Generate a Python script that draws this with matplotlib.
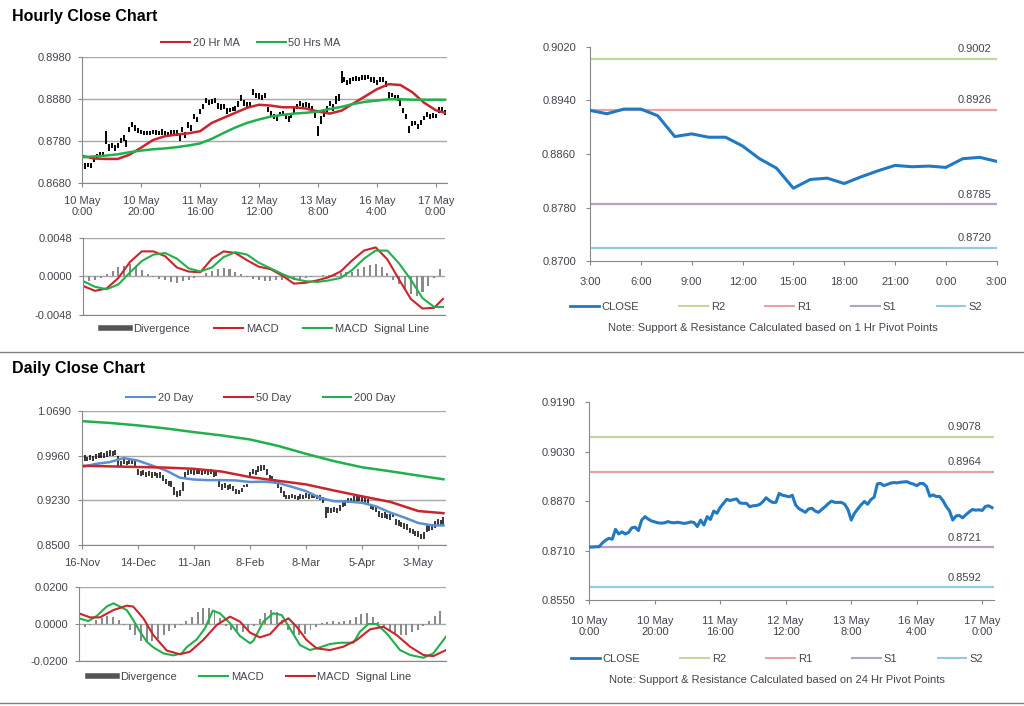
import matplotlib
matplotlib.use("Agg")
import matplotlib.pyplot as plt
from matplotlib.lines import Line2D

plt.rcParams["font.family"] = ["Liberation Sans", "DejaVu Sans"]

# hourly closes, 10 May 0:00 -> 17 May 3:00 (one value per bar)
hr_close = [0.8722, 0.8722, 0.8723, 0.8723, 0.8735, 0.8744, 0.8750, 0.8747, 0.8779, 0.8764,
            0.8771, 0.8764, 0.8769, 0.8784, 0.8786, 0.8775, 0.8809, 0.8820, 0.8812, 0.8806,
            0.8803, 0.8800, 0.8799, 0.8800, 0.8804, 0.8801, 0.8800, 0.8802, 0.8800, 0.8798,
            0.8800, 0.8803, 0.8801, 0.8788, 0.8809, 0.8793, 0.8820, 0.8811, 0.8838, 0.8831,
            0.8850, 0.8863, 0.8876, 0.8872, 0.8875, 0.8877, 0.8864, 0.8863, 0.8863, 0.8852,
            0.8855, 0.8856, 0.8859, 0.8868, 0.8881, 0.8872, 0.8866, 0.8866, 0.8895, 0.8889,
            0.8887, 0.8884, 0.8889, 0.8858, 0.8846, 0.8840, 0.8834, 0.8845, 0.8847, 0.8838,
            0.8834, 0.8843, 0.8852, 0.8862, 0.8870, 0.8866, 0.8866, 0.8866, 0.8860, 0.8843,
            0.8809, 0.8831, 0.8845, 0.8858, 0.8869, 0.8860, 0.8875, 0.8883, 0.8926, 0.8927,
            0.8920, 0.8924, 0.8928, 0.8930, 0.8929, 0.8931, 0.8932, 0.8933, 0.8928, 0.8925,
            0.8920, 0.8927, 0.8927, 0.8917, 0.8886, 0.8890, 0.8885, 0.8885, 0.8872, 0.8853,
            0.8839, 0.8809, 0.8822, 0.8824, 0.8816, 0.8826, 0.8835, 0.8843, 0.8841, 0.8842,
            0.8840, 0.8853, 0.8855, 0.8849]
# bar high / low distance from close, in pips
hr_up = [5, 6, 5, 6, 7, 6, 5, 7, 26, 9, 6, 7, 6, 5, 8, 7, 5, 6, 8, 6,
         5, 4, 6, 5, 4, 6, 5, 7, 5, 4, 6, 5, 7, 8, 6, 9, 5, 8, 6, 7,
         6, 5, 7, 6, 5, 6, 8, 5, 6, 7, 5, 6, 5, 8, 9, 6, 7, 8, 10, 6,
         8, 7, 6, 4, 5, 6, 7, 5, 6, 8, 6, 5, 7, 6, 5, 6, 7, 6, 5, 6,
         8, 9, 7, 6, 8, 9, 12, 10, 22, 6, 7, 6, 5, 6, 5, 6, 7, 5, 6, 8,
         6, 5, 6, 7, 12, 6, 5, 6, 7, 6, 5, 7, 6, 5, 6, 5, 6, 7, 5, 6,
         6, 9, 7, 6]
hr_dn = [6, 8, 5, 6, 5, 7, 6, 5, 6, 8, 7, 6, 5, 7, 6, 8, 6, 5, 7, 6,
         5, 6, 4, 5, 6, 5, 4, 6, 5, 6, 7, 6, 9, 8, 7, 6, 8, 7, 6, 5,
         6, 7, 5, 6, 7, 5, 6, 8, 6, 7, 6, 5, 7, 6, 5, 8, 7, 6, 5, 7,
         6, 5, 7, 8, 6, 7, 6, 5, 7, 6, 8, 7, 6, 5, 6, 7, 5, 6, 7, 8,
         16, 9, 7, 8, 6, 7, 5, 6, 7, 5, 6, 7, 5, 6, 5, 6, 7, 5, 6, 5,
         6, 5, 6, 7, 6, 5, 7, 8, 7, 6, 7, 9, 6, 5, 7, 6, 5, 6, 7, 6,
         5, 6, 6, 7]

hr_ma_x = [0, 4, 8, 12, 16, 20, 24, 28, 32, 36, 40, 44, 48, 52, 56, 60,
           64, 68, 72, 76, 80, 84, 88, 92, 96, 100, 104, 108, 112, 116, 120, 123]
hr_ma20 = [0.8745, 0.8739, 0.8738, 0.8738, 0.8748, 0.8765, 0.8783, 0.8792, 0.8796, 0.8799, 0.8804,
           0.8824, 0.8836, 0.8848, 0.8860, 0.8867, 0.8865, 0.8861, 0.8861, 0.8858, 0.8851, 0.8846,
           0.8853, 0.8870, 0.8887, 0.8904, 0.8916, 0.8914, 0.8897, 0.8872, 0.8854, 0.8848]
hr_ma50 = [0.8742, 0.8744, 0.8746, 0.8749, 0.8754, 0.8758, 0.8761, 0.8763, 0.8766, 0.8770, 0.8775,
           0.8786, 0.8800, 0.8813, 0.8824, 0.8832, 0.8839, 0.8843, 0.8846, 0.8848, 0.8851, 0.8857,
           0.8862, 0.8869, 0.8874, 0.8877, 0.8880, 0.8880, 0.8879, 0.8879, 0.8879, 0.8879]
hr_macd = [-0.0012, -0.0018, -0.0015, -0.0002, 0.0018, 0.0031, 0.0031, 0.0025, 0.0011, 0.0006, 0.0005,
           0.0022, 0.0031, 0.0029, 0.0020, 0.0012, 0.0009, 0.0001, -0.0009, -0.0008, -0.0005, -0.0001,
           0.0006, 0.0020, 0.0032, 0.0036, 0.0021, -0.0004, -0.0028, -0.0040, -0.0039, -0.0028]
hr_signal = [-0.0006, -0.0013, -0.0016, -0.0010, 0.0005, 0.0019, 0.0027, 0.0029, 0.0022, 0.0010, 0.0006,
             0.0011, 0.0024, 0.0030, 0.0027, 0.0017, 0.0010, 0.0003, -0.0003, -0.0006, -0.0007, -0.0005,
             -0.0002, 0.0008, 0.0022, 0.0032, 0.0032, 0.0016, -0.0004, -0.0027, -0.0038, -0.0038]
hr_div_x = [0, 2, 4, 6, 8, 10, 12, 14, 16, 18, 20, 22, 24, 26, 28, 30, 32, 34, 36, 38, 40,
            42, 44, 46, 48, 50, 52, 54, 56, 58, 60, 62, 64, 66, 68, 70, 72, 74, 76, 78, 80,
            82, 84, 86, 88, 90, 92, 94, 96, 98, 100, 102, 104, 106, 108, 110, 112, 114, 116,
            118, 120, 122]
hr_div = [-0.0005, -0.0006, -0.0004, -0.0002, 0.0003, 0.0007, 0.0011, 0.0013, 0.0015, 0.0013, 0.0008,
          0.0003, -0.0001, -0.0003, -0.0005, -0.0007, -0.0008, -0.0006, -0.0004, -0.0002, 0.0001,
          0.0004, 0.0007, 0.0009, 0.0010, 0.0009, 0.0006, 0.0003, -0.0001, -0.0003, -0.0005,
          -0.0006, -0.0006, -0.0005, -0.0005, -0.0004, -0.0004, -0.0003, -0.0002, -0.0001, 0.0001,
          0.0002, 0.0002, 0.0003, 0.0004, 0.0005, 0.0006, 0.0009, 0.0012, 0.0014, 0.0015,
          0.0012, 0.0004, -0.0004, -0.0010, -0.0016, -0.0022, -0.0024, -0.0020, -0.0012, -0.0002, 0.0009]

hr_xticks = [0, 20, 40, 60, 80, 100, 120]
hr_xlabels = ["10 May\n0:00", "10 May\n20:00", "11 May\n16:00", "12 May\n12:00",
              "13 May\n8:00", "16 May\n4:00", "17 May\n0:00"]
hr_yticks = [0.8680, 0.8780, 0.8880, 0.8980]
hr_macd_ticks = [-0.0048, 0.0, 0.0048]

# last 24 hours (3:00 -> 3:00) with 1 hour pivots
day_hours = list(range(25))
day_xticks = [0, 3, 6, 9, 12, 15, 18, 21, 24]
day_xlabels = ["3:00", "6:00", "9:00", "12:00", "15:00", "18:00", "21:00", "0:00", "3:00"]
day_yticks = [0.8700, 0.8780, 0.8860, 0.8940, 0.9020]
piv_names = ["R2", "R1", "S1", "S2"]
piv_1h = [0.9002, 0.8926, 0.8785, 0.8720]
piv_24h = [0.9078, 0.8964, 0.8721, 0.8592]
wk_yticks = [0.8550, 0.8710, 0.8870, 0.9030, 0.9190]

# daily bars, 16-Nov -> mid May
d_close = [0.9895, 0.9920, 0.9905, 0.9935, 0.9915, 0.9945, 0.9960, 0.9975, 0.9965, 0.9985,
           1.0005, 0.9990, 1.0010, 0.9870, 0.9820, 0.9865, 0.9840, 0.9870, 0.9860, 0.9830,
           0.9700, 0.9670, 0.9690, 0.9650, 0.9670, 0.9640, 0.9660, 0.9630, 0.9645, 0.9600,
           0.9540, 0.9510, 0.9490, 0.9380, 0.9330, 0.9350, 0.9460, 0.9640, 0.9690, 0.9700,
           0.9685, 0.9710, 0.9700, 0.9690, 0.9705, 0.9680, 0.9700, 0.9660, 0.9670, 0.9500,
           0.9450, 0.9470, 0.9440, 0.9460, 0.9420, 0.9380, 0.9370, 0.9400, 0.9460, 0.9480,
           0.9640, 0.9700, 0.9690, 0.9740, 0.9760, 0.9770, 0.9700, 0.9600, 0.9580, 0.9540,
           0.9480, 0.9400, 0.9330, 0.9290, 0.9280, 0.9300, 0.9280, 0.9270, 0.9290, 0.9280,
           0.9310, 0.9290, 0.9310, 0.9300, 0.9280, 0.9270, 0.9230, 0.9030, 0.9070, 0.9060,
           0.9080, 0.9070, 0.9110, 0.9160, 0.9190, 0.9230, 0.9220, 0.9250, 0.9240, 0.9270,
           0.9250, 0.9230, 0.9200, 0.9130, 0.9110, 0.9090, 0.9010, 0.8980, 0.8990, 0.8970,
           0.8960, 0.8990, 0.8880, 0.8860, 0.8830, 0.8810, 0.8790, 0.8740, 0.8720, 0.8690,
           0.8680, 0.8640, 0.8660, 0.8780, 0.8770, 0.8800, 0.8840, 0.8870, 0.8860, 0.8890]
# daily bar length in thousandths
d_range = [8, 9, 7, 8, 9, 7, 8, 9, 8, 10, 9, 8, 9, 18, 10, 8, 7, 9, 8, 9,
           10, 9, 8, 9, 8, 9, 7, 8, 9, 10, 9, 8, 10, 12, 10, 9, 14, 12, 8, 7,
           8, 9, 7, 8, 9, 8, 7, 9, 8, 12, 9, 8, 9, 8, 9, 8, 7, 6, 4, 5,
           10, 9, 8, 10, 11, 9, 10, 9, 8, 9, 10, 11, 9, 7, 6, 7, 6, 7, 8, 7,
           9, 8, 7, 8, 7, 8, 10, 18, 9, 8, 9, 8, 10, 9, 10, 9, 8, 10, 11, 9,
           8, 9, 10, 9, 8, 9, 10, 8, 9, 8, 9, 8, 10, 9, 8, 9, 10, 9, 8, 9,
           10, 9, 11, 12, 9, 10, 11, 10, 9, 12]
d_ma_x = [0, 10, 20, 30, 40, 50, 60, 70, 80, 90, 100, 110, 120, 129]
d_ma200 = [1.0524, 1.0495, 1.0455, 1.0405, 1.0345, 1.0290, 1.0225, 1.0120, 0.9990, 0.9870,
           0.9770, 0.9705, 0.9635, 0.9574]
d_ma50 = [0.9795, 0.9785, 0.9775, 0.9765, 0.9745, 0.9700, 0.9610, 0.9550, 0.9490, 0.9390,
          0.9295, 0.9205, 0.9055, 0.9020]
d_ma20_x = [0, 5, 10, 15, 20, 25, 30, 35, 40, 45, 50, 55, 60, 65, 70, 75, 80, 85, 90, 95,
            100, 105, 110, 115, 120, 125, 129]
d_ma20 = [0.9775, 0.9825, 0.9855, 0.9920, 0.9880, 0.9800, 0.9720, 0.9600, 0.9570, 0.9560,
          0.9560, 0.9555, 0.9530, 0.9535, 0.9515, 0.9450, 0.9380, 0.9270, 0.9215, 0.9210,
          0.9190, 0.9130, 0.9030, 0.8950, 0.8860, 0.8820, 0.8820]
d_macd_x = [0, 3.3, 6.3, 9.8, 12.2, 14.5, 16.9, 19.2, 21.6, 24, 26.3, 29.9, 33.4, 36.4, 38.1,
            41.7, 44.6, 47.4, 49.9, 53.5, 57, 60.6, 61.8, 65.3, 68.8, 71.8, 74.7, 78.3, 81.8,
            85.4, 88.9, 92.5, 97.2, 99.5, 102.5, 105.4, 109, 113.7, 117.3, 122, 125.5, 130]
d_macd = [0.0031, 0.0016, 0.0044, 0.0095, 0.0113, 0.0095, 0.0076, 0.0022, -0.0042, -0.0096,
          -0.0127, -0.0160, -0.0171, -0.0160, -0.0127, -0.0084, -0.0024, 0.0073, 0.0058, 0.0004,
          -0.0065, -0.0105, -0.0091, 0.0013, 0.0058, 0.0049, -0.0024, -0.0115, -0.0142, -0.0127,
          -0.0109, -0.0102, -0.0102, -0.0042, 0.0000, 0.0000, -0.0051, -0.0142, -0.0169, -0.0184,
          -0.0160, -0.0069]
d_sig_x = [0, 3.9, 7.4, 12.2, 16.9, 19.2, 22.8, 26.3, 31.1, 35.8, 39.3, 44, 48.8, 53.5, 57,
           60.6, 64.1, 67.7, 71.2, 74.2, 77.1, 80.6, 84.2, 88.9, 93.6, 98.4, 103.1, 107.8,
           112.5, 117.3, 122, 125.5, 130]
d_sig = [0.0058, 0.0036, 0.0036, 0.0076, 0.0100, 0.0095, 0.0031, -0.0060, -0.0145, -0.0165,
         -0.0151, -0.0087, -0.0005, 0.0040, 0.0013, -0.0047, -0.0073, -0.0055, 0.0004, 0.0031,
         -0.0015, -0.0087, -0.0133, -0.0142, -0.0124, -0.0087, -0.0029, -0.0015, -0.0060,
         -0.0124, -0.0169, -0.0175, -0.0142]
d_div_x = [0, 2, 4, 6, 8, 10, 12, 14, 16, 18, 20, 22, 24, 26, 28, 30, 32, 34, 36, 38, 40,
           42, 44, 46, 48, 50, 52, 54, 56, 58, 60, 62, 64, 66, 68, 70, 72, 74, 76, 78, 80,
           82, 84, 86, 88, 90, 92, 94, 96, 98, 100, 102, 104, 106, 108, 110, 112, 114, 116,
           118, 120, 122, 124, 126, 128]
d_div = [-0.0020, -0.0015, -0.0005, 0.0020, 0.0035, 0.0045, 0.0040, 0.0020, -0.0005, -0.0030,
         -0.0060, -0.0090, -0.0100, -0.0095, -0.0080, -0.0060, -0.0040, -0.0020, -0.0005, 0.0015,
         0.0040, 0.0065, 0.0085, 0.0088, 0.0070, 0.0030, -0.0010, -0.0030, -0.0040, -0.0045,
         -0.0035, -0.0010, 0.0025, 0.0060, 0.0075, 0.0065, 0.0020, -0.0030, -0.0055, -0.0062,
         -0.0055, -0.0035, -0.0015, 0.0005, 0.0012, 0.0015, 0.0012, 0.0015, 0.0020, 0.0040,
         0.0055, 0.0058, 0.0040, 0.0010, -0.0020, -0.0040, -0.0055, -0.0060, -0.0058, -0.0045,
         -0.0030, -0.0010, 0.0015, 0.0045, 0.0070]
d_xticks = [0, 20, 40, 60, 80, 100, 120]
d_xlabels = ["16-Nov", "14-Dec", "11-Jan", "8-Feb", "8-Mar", "5-Apr", "3-May"]
d_yticks = [0.8500, 0.9230, 0.9960, 1.0690]
d_macd_ticks = [-0.0200, 0.0, 0.0200]

RED = "#c9252c"
GREEN = "#21b04b"
BLUE = "#5b8fd3"
CLOSE = "#2378c3"
DIVC = "#8a8a8a"
PIVC = ["#c3d69b", "#e6a3a3", "#b3a2c7", "#93cddd"]
AXC = "#888888"
TXT = "#444450"
GRID = "#a8a8a8"

W, H = 1024, 706
fig = plt.figure(figsize=(W / 100, H / 100), dpi=100)


def box(l, t, r, b):
    return [l / W, 1 - b / H, (r - l) / W, (b - t) / H]


def style(ax, grid=True):
    for s in ("top", "right"):
        ax.spines[s].set_visible(False)
    for s in ("left", "bottom"):
        ax.spines[s].set_color(AXC)
    ax.tick_params(colors=AXC, labelcolor=TXT, labelsize=8, length=3, width=0.8)
    ax.tick_params(axis="y", pad=5)
    ax.tick_params(axis="x", pad=6)
    if grid:
        ax.yaxis.grid(True, color=GRID, lw=1)
        ax.set_axisbelow(True)


def fmt(vals):
    return ["%.4f" % v for v in vals]


def legend(handles, labels, cx, cy, cs):
    fig.legend(handles, labels, loc="center", bbox_to_anchor=(cx / W, 1 - cy / H), ncol=len(labels),
               frameon=False, fontsize=8, labelcolor=TXT, handlelength=2.6, handletextpad=0.25,
               columnspacing=cs, borderpad=0)


def pivots(ax, levels, dx):
    for v, c in zip(levels, PIVC):
        ax.axhline(v, color=c, lw=1.6, zorder=1)
        ax.annotate("%.4f" % v, xy=(1, v), xycoords=("axes fraction", "data"), xytext=(dx, 7),
                    textcoords="offset points", ha="right", va="center", fontsize=8, color=TXT)


# ---- hourly bars + moving averages ----
ax1 = fig.add_axes(box(82.3, 57.3, 446.7, 183.3))
style(ax1)
xs = list(range(len(hr_close)))
hi = [c + u * 0.0001 for c, u in zip(hr_close, hr_up)]
lo = [c - d * 0.0001 for c, d in zip(hr_close, hr_dn)]
ax1.vlines(xs, lo, hi, color="black", lw=1.4)
ax1.plot(hr_ma_x, hr_ma20, color=RED, lw=1.8)
ax1.plot(hr_ma_x, hr_ma50, color=GREEN, lw=1.8)
ax1.set_xlim(0, 123.7)
ax1.set_ylim(hr_yticks[0], hr_yticks[-1])
ax1.set_yticks(hr_yticks, fmt(hr_yticks))
ax1.set_xticks(hr_xticks, hr_xlabels)
legend([Line2D([], [], color=RED, lw=1.5), Line2D([], [], color=GREEN, lw=1.5)],
       ["20 Hr MA", "50 Hrs MA"], 251, 43, 1.5)

# ---- hourly MACD ----
ax2 = fig.add_axes(box(83.3, 237.7, 445, 315))
style(ax2)
ax2.bar(hr_div_x, hr_div, width=0.7, color=DIVC)
ax2.plot(hr_ma_x, hr_macd, color=RED, lw=1.5)
ax2.plot(hr_ma_x, hr_signal, color=GREEN, lw=1.5)
ax2.set_xlim(0, 123.7)
ax2.set_ylim(hr_macd_ticks[0], hr_macd_ticks[-1])
ax2.set_yticks(hr_macd_ticks, fmt(hr_macd_ticks))
ax2.set_xticks([])
legend([Line2D([], [], color="#555555", lw=4), Line2D([], [], color=RED, lw=1.5),
        Line2D([], [], color=GREEN, lw=1.5)],
       ["Divergence", "MACD", "MACD  Signal Line"], 265, 329, 2.2)

# ---- last 24 hours vs 1 hr pivots ----
ax3 = fig.add_axes(box(590, 46.7, 996.7, 261.3))
style(ax3, grid=False)
pivots(ax3, piv_1h, -4)
ax3.plot(day_hours, hr_close[-len(day_hours):], color=CLOSE, lw=2.2, zorder=3)
ax3.set_xlim(0, 24)
ax3.set_ylim(day_yticks[0], day_yticks[-1])
ax3.set_yticks(day_yticks, fmt(day_yticks))
ax3.set_xticks(day_xticks, day_xlabels)
ax3.tick_params(axis="y", pad=7)
ax3.tick_params(axis="x", pad=8)
piv_handles = [Line2D([], [], color=CLOSE, lw=2)] + [Line2D([], [], color=c, lw=1.5) for c in PIVC]
legend(piv_handles, ["CLOSE"] + piv_names, 776, 307, 3.6)
fig.text(773 / W, 1 - 328 / H, "Note: Support & Resistance Calculated based on 1 Hr Pivot Points",
         ha="center", va="center", fontsize=8, color=TXT)

# ---- daily bars + moving averages ----
ax4 = fig.add_axes(box(81.7, 411, 446, 545))
style(ax4)
dx = list(range(len(d_close)))
dhi = [c + r * 0.0005 for c, r in zip(d_close, d_range)]
dlo = [c - r * 0.0005 for c, r in zip(d_close, d_range)]
ax4.vlines(dx, dlo, dhi, color="black", lw=1.1)
ax4.plot(d_ma20_x, d_ma20, color=BLUE, lw=1.8)
ax4.plot(d_ma_x, d_ma50, color=RED, lw=1.8)
ax4.plot(d_ma_x, d_ma200, color=GREEN, lw=1.8)
ax4.set_xlim(0, 129.9)
ax4.set_ylim(d_yticks[0], d_yticks[-1])
ax4.set_yticks(d_yticks, fmt(d_yticks))
ax4.set_xticks(d_xticks, d_xlabels)
legend([Line2D([], [], color=BLUE, lw=1.5), Line2D([], [], color=RED, lw=1.5),
        Line2D([], [], color=GREEN, lw=1.5)], ["20 Day", "50 Day", "200 Day"], 261, 398, 2.8)

# ---- daily MACD ----
ax5 = fig.add_axes(box(79, 587.3, 446, 660.7))
style(ax5)
ax5.bar(d_div_x, d_div, width=0.7, color=DIVC)
ax5.plot(d_macd_x, d_macd, color=GREEN, lw=1.5)
ax5.plot(d_sig_x, d_sig, color=RED, lw=1.5)
ax5.set_xlim(0, 130)
ax5.set_ylim(d_macd_ticks[0], d_macd_ticks[-1])
ax5.set_yticks(d_macd_ticks, fmt(d_macd_ticks))
ax5.set_xticks([])
legend([Line2D([], [], color="#555555", lw=4), Line2D([], [], color=GREEN, lw=1.5),
        Line2D([], [], color=RED, lw=1.5)],
       ["Divergence", "MACD", "MACD  Signal Line"], 250, 677, 2.0)

# ---- hourly close vs 24 hr pivots ----
ax6 = fig.add_axes(box(589.3, 402, 994.3, 600.3))
style(ax6, grid=False)
pivots(ax6, piv_24h, -9)
ax6.plot(xs, hr_close, color=CLOSE, lw=2.2, zorder=3)
ax6.set_xlim(0, 123.7)
ax6.set_ylim(wk_yticks[0], wk_yticks[-1])
ax6.set_yticks(wk_yticks, fmt(wk_yticks))
ax6.set_xticks(hr_xticks, hr_xlabels)
ax6.tick_params(axis="y", pad=7)
ax6.tick_params(axis="x", pad=8)
legend(piv_handles, ["CLOSE"] + piv_names, 777, 659, 3.6)
fig.text(777 / W, 1 - 680 / H, "Note: Support & Resistance Calculated based on 24 Hr Pivot Points",
         ha="center", va="center", fontsize=8, color=TXT)

# titles and separators
fig.text(12 / W, 1 - 16 / H, "Hourly Close Chart", fontsize=11.5, weight="bold", va="center")
fig.text(12 / W, 1 - 369 / H, "Daily Close Chart", fontsize=11.5, weight="bold", va="center")
fig.add_artist(Line2D([0, 1], [1 - 352 / H] * 2, color="#808080", lw=1))
fig.add_artist(Line2D([0, 1], [1 - 703 / H] * 2, color="#808080", lw=1))

fig.savefig("out.png", dpi=100, facecolor="white")
